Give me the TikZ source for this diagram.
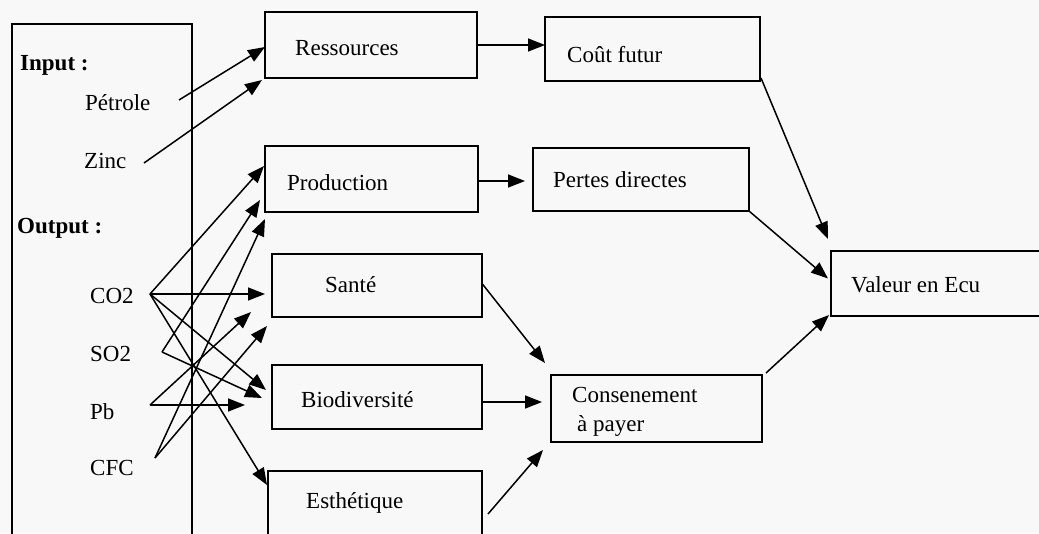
\documentclass[tikz,border=0pt]{standalone}
\usepackage{fontspec}
\setmainfont{Liberation Serif}
\usetikzlibrary{arrows.meta,calc}
\definecolor{paper}{RGB}{248,248,248}
\begin{document}
\begin{tikzpicture}[x=1pt,y=-1pt,
  box/.style={draw,line width=2.7pt,inner sep=0pt,outer sep=0pt},
  lbl/.style={anchor=base west,inner sep=0pt,font=\fontsize{23}{27}\selectfont},
  blbl/.style={lbl,font=\fontsize{23}{27}\selectfont\bfseries},
  arr/.style={line width=1.5pt,-{Triangle[length=17pt,width=13pt]}}]
\useasboundingbox (0,0) rectangle (1039,533);
\fill[paper] (0,0) rectangle (1039,533);
\clip (0,0) rectangle (1039,533);

% left panel with flows
\node[box,minimum width=180pt,minimum height=560pt,anchor=north west] (panel) at (12,24) {};
\node[blbl] (input) at (20,70) {Input :};
\node[lbl] (petrole) at (85,110) {Pétrole};
\node[lbl] (zinc) at (84,168) {Zinc};
\node[blbl] (output) at (17,233) {Output :};
\node[lbl] (co2) at (90,303) {CO2};
\node[lbl] (so2) at (90,361) {SO2};
\node[lbl] (pb) at (90,419) {Pb};
\node[lbl] (cfc) at (90,475) {CFC};

% impact boxes
\node[box,minimum width=212pt,minimum height=66pt,anchor=north west] (res) at (265,12) {};
\node[lbl] at (295,55) {Ressources};
\node[box,minimum width=213pt,minimum height=66pt,anchor=north west] (prod) at (265,146) {};
\node[lbl] at (287,190) {Production};
\node[box,minimum width=210pt,minimum height=63pt,anchor=north west] (sante) at (272,254) {};
\node[lbl] at (325,292) {Santé};
\node[box,minimum width=210pt,minimum height=64pt,anchor=north west] (biod) at (272,365) {};
\node[lbl] at (301,407) {Biodiversité};
\node[box,minimum width=214pt,minimum height=100pt,anchor=north west] (esth) at (268,471) {};
\node[lbl] at (306,508) {Esthétique};

% valuation boxes
\node[box,minimum width=215pt,minimum height=64pt,anchor=north west] (cout) at (545,17) {};
\node[lbl] at (567,62) {Coût futur};
\node[box,minimum width=216pt,minimum height=63pt,anchor=north west] (pertes) at (533,148) {};
\node[lbl] at (553,187) {Pertes directes};
\node[box,minimum width=211pt,minimum height=67pt,anchor=north west] (cons) at (551,375) {};
\node[lbl] at (572,402) {Consenement};
\node[lbl] at (577,431) {à payer};
\node[box,minimum width=215pt,minimum height=65pt,anchor=north west] (val) at (831,251) {};
\node[lbl] at (851,292) {Valeur en Ecu};

% flow end points
\coordinate (pe) at (179,100);
\coordinate (zi) at (144,163);
\coordinate (co) at (150,294);
\coordinate (so) at (162,352);
\coordinate (pbs) at (150,405);
\coordinate (cf) at (155,458);
\coordinate (r1) at (265,47);
\coordinate (r2) at (262,80);
\coordinate (p1) at (264,166);
\coordinate (p2) at (260,200);
\coordinate (p3) at (265,219);
\coordinate (s1) at (265,294);
\coordinate (s2) at (251,312);
\coordinate (s3) at (267,326);
\coordinate (b1) at (266,390);
\coordinate (b2) at (262,398);
\coordinate (b3) at (245,405);
\coordinate (e1) at (267,485);

% inputs to resources
\draw[arr] (pe) -- (r1);
\draw[arr] (zi) -- (r2);
% emissions to impacts
\draw[arr] (co) -- (p1);
\draw[arr] (co) -- (s1);
\draw[arr] (co) -- (b1);
\draw[arr] (co) -- (e1);
\draw[arr] (so) -- (p2);
\draw[arr] (so) -- (b2);
\draw[arr] (pbs) -- (s2);
\draw[arr] (pbs) -- (b3);
\draw[arr] (cf) -- (p3);
\draw[arr] (cf) -- (s3);

% impacts to damages
\draw[arr] (res.east) -- (res.east -| cout.west);
\draw[arr] ($(prod.east)+(0,2)$) -- ($(prod.east -| pertes.west)+(-8,2)$);
\draw[arr] ($(sante.east)+(0,-2)$) -- ($(cons.north west)+(-6,-12)$);
\draw[arr] ($(biod.east)+(0,5)$) -- ($(biod.east -| cons.west)+(-9,5)$);
\draw[arr] ($(esth.north east)+(6,43)$) -- ($(cons.south west)+(-8,8)$);

% damages to value
\draw[arr] ($(cout.south east)+(1,-3)$) -- ($(val.north west)+(-3,-12)$);
\draw[arr] (pertes.south east) -- ($(val.west)+(-3,-5)$);
\draw[arr] ($(cons.north east)+(4,-2)$) -- ($(val.south west)+(-2,-1)$);
\end{tikzpicture}
\end{document}
